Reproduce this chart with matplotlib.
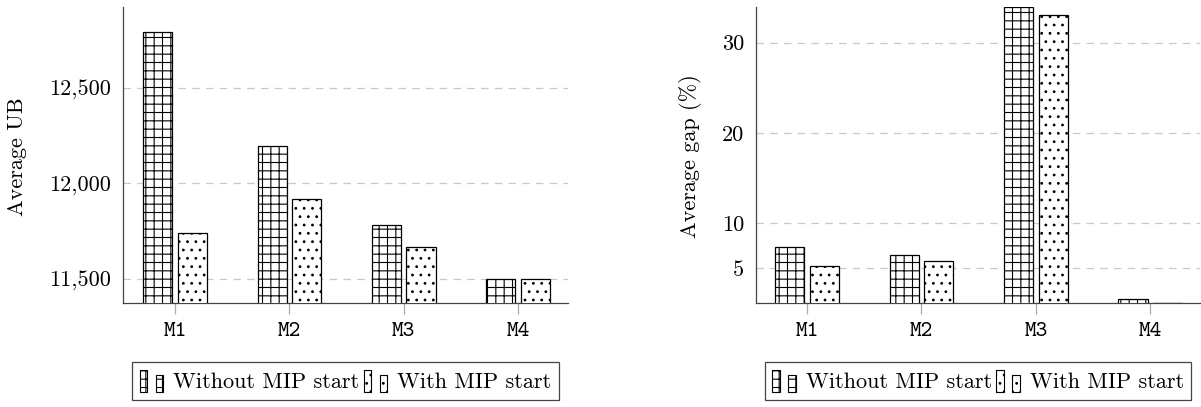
import numpy as np
import matplotlib
matplotlib.use("Agg")
import matplotlib.pyplot as plt
from matplotlib.patches import Patch, Rectangle
from matplotlib.legend_handler import HandlerBase

# ---- data ----
categories = ["M1", "M2", "M3", "M4"]
ub_without = [12793, 12194, 11780, 11502]
ub_with = [11738, 11916, 11665, 11500]
gap_without = [7.4, 6.5, 33.9, 1.6]
gap_with = [5.3, 5.8, 33.1, 1.2]
ub_ticks = [11500, 12000, 12500]
gap_ticks = [5, 10, 20, 30]
series_labels = ["Without MIP start", "With MIP start"]

plt.rcParams["font.family"] = "cmr10"
plt.rcParams["axes.formatter.use_mathtext"] = True
plt.rcParams["font.size"] = 16
plt.rcParams["hatch.linewidth"] = 0.8


class TwoBarHandler(HandlerBase):
    # pgfplots-style legend icon: two little bars
    def create_artists(self, legend, orig_handle, xdescent, ydescent,
                       width, height, fontsize, trans):
        bw = width * 0.32
        kw = dict(facecolor="white", edgecolor="black", lw=0.8,
                  hatch=orig_handle.get_hatch(), transform=trans)
        r1 = Rectangle((-xdescent, -ydescent), bw, height, **kw)
        r2 = Rectangle((-xdescent + width - bw, -ydescent), bw, height * 0.75, **kw)
        return [r1, r2]


W, H = 1201, 407
fig = plt.figure(figsize=(W / 100, H / 100), dpi=100)
ax1 = fig.add_axes([123 / W, 104 / H, 445 / W, 296 / H])
ax2 = fig.add_axes([756 / W, 104 / H, 444 / W, 296 / H])

x = np.arange(len(categories))
bw = 0.255
off = 0.151
hatches = ["++", ".."]


def draw(ax, without, with_, ticks, ylim, ylabel, xlim, label_x):
    ax.set_axisbelow(True)
    ax.bar(x - off, without, bw, facecolor="white", edgecolor="black",
           lw=0.9, hatch=hatches[0], zorder=3)
    ax.bar(x + off, with_, bw, facecolor="white", edgecolor="black",
           lw=0.9, hatch=hatches[1], zorder=3)
    ax.set_ylim(*ylim)
    ax.set_xlim(*xlim)
    ax.set_yticks(ticks, [f"{t:,}" for t in ticks])
    ax.set_xticks(x, categories, fontfamily="cmtt10")
    ax.yaxis.grid(True, linestyle=(0, (6, 5)), color="#c8c8c8", lw=0.9)
    for s in ["top", "right"]:
        ax.spines[s].set_visible(False)
    for s in ["left", "bottom"]:
        ax.spines[s].set_color("#444444")
        ax.spines[s].set_linewidth(0.9)
    ax.tick_params(axis="y", length=0, pad=8.5)
    ax.tick_params(axis="x", length=8, color="#aaaaaa", width=0.9, pad=6)
    ax.set_ylabel(ylabel)
    ax.yaxis.set_label_coords(label_x, 0.495)

    proxies = [Patch(facecolor="white", edgecolor="black", hatch=h) for h in hatches]
    ax.legend(proxies, series_labels, ncol=2, loc="upper center",
              bbox_to_anchor=(0.5, -0.2), borderaxespad=0,
              frameon=True, fancybox=False,
              edgecolor="#444444", framealpha=1,
              handler_map={p: TwoBarHandler() for p in proxies},
              handlelength=1.05, handleheight=1.13, handletextpad=0.45,
              columnspacing=0.2, borderpad=0.35)
    ax.get_legend().get_frame().set_linewidth(0.9)


draw(ax1, ub_without, ub_with, ub_ticks, (11374, 12924), "Average UB",
     (-0.455, 3.437), -0.216)
draw(ax2, gap_without, gap_with, gap_ticks, (1.17, 33.95), "Average gap (%)",
     (-0.446, 3.434), -0.122)

fig.savefig("out.png", dpi=100)
